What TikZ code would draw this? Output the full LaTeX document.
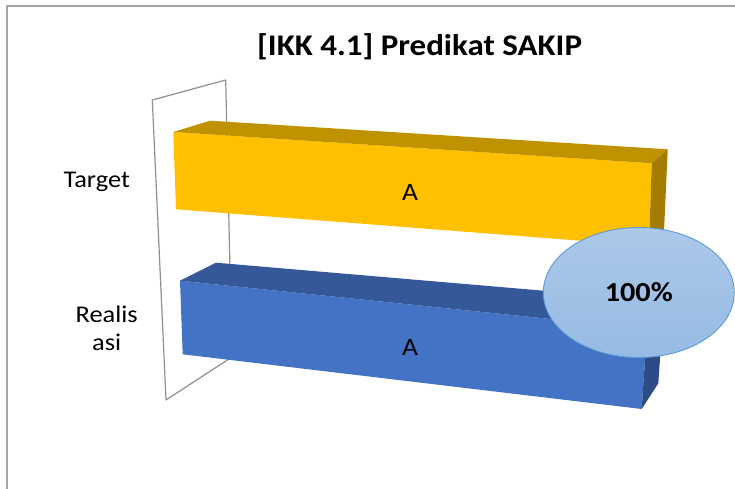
\documentclass[tikz,border=0pt]{standalone}
\usepackage{fontspec}
\setmainfont[FakeStretch=1.1]{Carlito}
\usepackage{tikz}
\usetikzlibrary{shapes.geometric}

\definecolor{goldfront}{HTML}{FFC000}
\definecolor{goldtop}{HTML}{C09200}
\definecolor{goldside}{HTML}{A47C00}
\definecolor{bluefront}{HTML}{4472C4}
\definecolor{bluetop}{HTML}{355899}
\definecolor{blueside}{HTML}{2D4B84}
\definecolor{wallgray}{HTML}{8F8F8F}
\definecolor{framegray}{HTML}{A6A6A6}
\definecolor{bubbletop}{HTML}{ABC8E9}
\definecolor{bubblebot}{HTML}{97BBE3}
\definecolor{bubbleline}{HTML}{5B9BD5}

\begin{document}
\begin{tikzpicture}[
  x=1pt,y=-1pt,
  catlabel/.style={font=\fontsize{24}{28}\selectfont,align=center},
  vallabel/.style={font=\fontsize{25}{28}\selectfont},
  bubble/.style={ellipse,draw=bubbleline,line width=0.9pt,top color=bubbletop,bottom color=bubblebot,
    minimum width=191pt,minimum height=130pt,inner sep=0pt,font=\bfseries\fontsize{27.5}{30}\selectfont}
]
\useasboundingbox (0,0) rectangle (735,489);

% chart frame
\draw[framegray,line width=2pt] (6.5,489) -- (6.5,5.8) -- (735,5.8);

\node[font=\bfseries\fontsize{30}{34}\selectfont] (title) at (419.6,47) {[IKK 4.1] Predikat SAKIP};

% back wall
\draw[wallgray,line width=1.2pt,line join=round] (152.3,100) -- (225.7,80) -- (232,357) -- (166,400) -- cycle;

% target bar
\fill[goldfront] (173.3,132) -- (176,209.3) -- (649,246) -- (651.7,163.3) -- cycle;
\fill[goldtop] (173.3,132) -- (210,120.7) -- (667.7,149.3) -- (651.7,163.3) -- cycle;
\fill[goldside] (651.7,163.3) -- (667.7,149.3) -- (664,232) -- (649,246) -- cycle;

% realisasi bar
\fill[bluefront] (180,280.7) -- (182.7,354.3) -- (641.7,409) -- (647,329) -- cycle;
\fill[bluetop] (180,280.7) -- (216,262.7) -- (664,301) -- (647,329) -- cycle;
\fill[blueside] (647,329) -- (664,301) -- (658.3,383.3) -- (641.7,409) -- cycle;

\node[catlabel] (target) at (96.7,182) {Target};
\node[catlabel] (realisasi) at (106.7,328) {Realis\\asi};

\node[vallabel] (valtarget) at (410,192) {A};
\node[vallabel] (valreal) at (410,347) {A};

\node[bubble] (pct) at (638.8,292.5) {100\%};

\end{tikzpicture}
\end{document}
